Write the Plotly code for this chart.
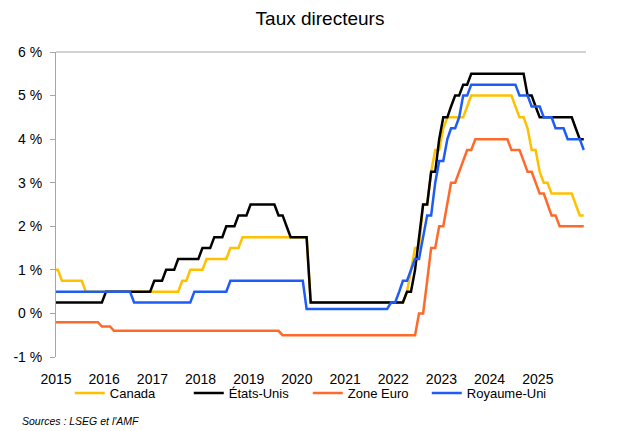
import pandas as pd
import plotly.graph_objects as go

# ---------------- DATA ----------------
# Monthly policy rates (%), from Dec 2014 to Dec 2025 (first value = Dec 2014)
months = pd.date_range("2014-12-01", "2025-12-01", freq="MS") + pd.Timedelta(days=14)

canada = [
    1.00,
    1.00, 0.75, 0.75, 0.75, 0.75, 0.75, 0.75, 0.50, 0.50, 0.50, 0.50, 0.50,  # 2015
    0.50, 0.50, 0.50, 0.50, 0.50, 0.50, 0.50, 0.50, 0.50, 0.50, 0.50, 0.50,  # 2016
    0.50, 0.50, 0.50, 0.50, 0.50, 0.50, 0.50, 0.75, 0.75, 1.00, 1.00, 1.00,  # 2017
    1.00, 1.25, 1.25, 1.25, 1.25, 1.25, 1.25, 1.50, 1.50, 1.50, 1.75, 1.75,  # 2018
    1.75, 1.75, 1.75, 1.75, 1.75, 1.75, 1.75, 1.75, 1.75, 1.75, 1.75, 1.75,  # 2019
    1.75, 1.75, 1.75, 0.25, 0.25, 0.25, 0.25, 0.25, 0.25, 0.25, 0.25, 0.25,  # 2020
    0.25, 0.25, 0.25, 0.25, 0.25, 0.25, 0.25, 0.25, 0.25, 0.25, 0.25, 0.25,  # 2021
    0.25, 0.25, 0.25, 0.50, 1.00, 1.50, 1.50, 2.50, 2.50, 3.25, 3.75, 3.75,  # 2022
    4.25, 4.50, 4.50, 4.50, 4.50, 4.50, 4.75, 5.00, 5.00, 5.00, 5.00, 5.00,  # 2023
    5.00, 5.00, 5.00, 5.00, 5.00, 5.00, 4.75, 4.50, 4.50, 4.25, 3.75, 3.75,  # 2024
    3.25, 3.00, 3.00, 2.75, 2.75, 2.75, 2.75, 2.75, 2.75, 2.50, 2.25, 2.25,  # 2025
]

etats_unis = [
    0.25,
    0.25, 0.25, 0.25, 0.25, 0.25, 0.25, 0.25, 0.25, 0.25, 0.25, 0.25, 0.25,  # 2015
    0.50, 0.50, 0.50, 0.50, 0.50, 0.50, 0.50, 0.50, 0.50, 0.50, 0.50, 0.50,  # 2016
    0.75, 0.75, 0.75, 1.00, 1.00, 1.00, 1.25, 1.25, 1.25, 1.25, 1.25, 1.25,  # 2017
    1.50, 1.50, 1.50, 1.75, 1.75, 1.75, 2.00, 2.00, 2.00, 2.25, 2.25, 2.25,  # 2018
    2.50, 2.50, 2.50, 2.50, 2.50, 2.50, 2.50, 2.25, 2.25, 2.00, 1.75, 1.75,  # 2019
    1.75, 1.75, 1.75, 0.25, 0.25, 0.25, 0.25, 0.25, 0.25, 0.25, 0.25, 0.25,  # 2020
    0.25, 0.25, 0.25, 0.25, 0.25, 0.25, 0.25, 0.25, 0.25, 0.25, 0.25, 0.25,  # 2021
    0.25, 0.25, 0.25, 0.50, 0.50, 1.00, 1.75, 2.50, 2.50, 3.25, 3.25, 4.00,  # 2022
    4.50, 4.50, 4.75, 5.00, 5.00, 5.25, 5.25, 5.50, 5.50, 5.50, 5.50, 5.50,  # 2023
    5.50, 5.50, 5.50, 5.50, 5.50, 5.50, 5.50, 5.50, 5.50, 5.00, 5.00, 4.75,  # 2024
    4.50, 4.50, 4.50, 4.50, 4.50, 4.50, 4.50, 4.50, 4.50, 4.25, 4.00, 4.00,  # 2025
]

zone_euro = [
    -0.20,
    -0.20, -0.20, -0.20, -0.20, -0.20, -0.20, -0.20, -0.20, -0.20, -0.20, -0.20, -0.30,  # 2015
    -0.30, -0.30, -0.40, -0.40, -0.40, -0.40, -0.40, -0.40, -0.40, -0.40, -0.40, -0.40,  # 2016
    -0.40, -0.40, -0.40, -0.40, -0.40, -0.40, -0.40, -0.40, -0.40, -0.40, -0.40, -0.40,  # 2017
    -0.40, -0.40, -0.40, -0.40, -0.40, -0.40, -0.40, -0.40, -0.40, -0.40, -0.40, -0.40,  # 2018
    -0.40, -0.40, -0.40, -0.40, -0.40, -0.40, -0.40, -0.40, -0.50, -0.50, -0.50, -0.50,  # 2019
    -0.50, -0.50, -0.50, -0.50, -0.50, -0.50, -0.50, -0.50, -0.50, -0.50, -0.50, -0.50,  # 2020
    -0.50, -0.50, -0.50, -0.50, -0.50, -0.50, -0.50, -0.50, -0.50, -0.50, -0.50, -0.50,  # 2021
    -0.50, -0.50, -0.50, -0.50, -0.50, -0.50, 0.00, 0.00, 0.75, 1.50, 1.50, 2.00,  # 2022
    2.00, 2.50, 3.00, 3.00, 3.25, 3.50, 3.75, 3.75, 4.00, 4.00, 4.00, 4.00,  # 2023
    4.00, 4.00, 4.00, 4.00, 4.00, 3.75, 3.75, 3.75, 3.50, 3.25, 3.25, 3.00,  # 2024
    2.75, 2.75, 2.50, 2.25, 2.25, 2.00, 2.00, 2.00, 2.00, 2.00, 2.00, 2.00,  # 2025
]

royaume_uni = [
    0.50,
    0.50, 0.50, 0.50, 0.50, 0.50, 0.50, 0.50, 0.50, 0.50, 0.50, 0.50, 0.50,  # 2015
    0.50, 0.50, 0.50, 0.50, 0.50, 0.50, 0.50, 0.25, 0.25, 0.25, 0.25, 0.25,  # 2016
    0.25, 0.25, 0.25, 0.25, 0.25, 0.25, 0.25, 0.25, 0.25, 0.25, 0.50, 0.50,  # 2017
    0.50, 0.50, 0.50, 0.50, 0.50, 0.50, 0.50, 0.75, 0.75, 0.75, 0.75, 0.75,  # 2018
    0.75, 0.75, 0.75, 0.75, 0.75, 0.75, 0.75, 0.75, 0.75, 0.75, 0.75, 0.75,  # 2019
    0.75, 0.75, 0.10, 0.10, 0.10, 0.10, 0.10, 0.10, 0.10, 0.10, 0.10, 0.10,  # 2020
    0.10, 0.10, 0.10, 0.10, 0.10, 0.10, 0.10, 0.10, 0.10, 0.10, 0.10, 0.25,  # 2021
    0.25, 0.50, 0.75, 0.75, 1.00, 1.25, 1.25, 1.75, 2.25, 2.25, 3.00, 3.50,  # 2022
    3.50, 4.00, 4.25, 4.25, 4.50, 5.00, 5.00, 5.25, 5.25, 5.25, 5.25, 5.25,  # 2023
    5.25, 5.25, 5.25, 5.25, 5.25, 5.25, 5.25, 5.00, 5.00, 5.00, 4.75, 4.75,  # 2024
    4.75, 4.50, 4.50, 4.50, 4.25, 4.25, 4.25, 4.00, 4.00, 4.00, 4.00, 3.75,  # 2025
]

series_names = ["Canada", "États-Unis", "Zone Euro", "Royaume-Uni"]
series_values = [canada, etats_unis, zone_euro, royaume_uni]
series_colors = ["#FFC000", "#000000", "#FF6A2A", "#1F5CF5"]

year_labels = [str(y) for y in range(2015, 2026)]
year_ticks = [f"{y}-01-01" for y in range(2015, 2026)]
y_tick_vals = [-1, 0, 1, 2, 3, 4, 5, 6]
y_tick_text = ["-1 %", "0 %", "1 %", "2 %", "3 %", "4 %", "5 %", "6 %"]

title_text = "Taux directeurs"
source_text = "Sources : LSEG et l'AMF"

# ---------------- FIGURE ----------------
FONT = "Liberation Sans, Arial, sans-serif"
AXIS_GREY = "#A6A6A6"
ZERO_GREY = "#D9D9D9"
x_range = ["2015-01-01", "2026-01-01"]

# The page body has an 8px margin: the figure is sized to fill the rest of the window
W, H = 631, 423

fig = go.Figure()
for name, vals, col in zip(series_names, series_values, series_colors):
    fig.add_trace(go.Scatter(
        x=months, y=vals, mode="lines", name=name,
        line=dict(color=col, width=2.5),
    ))

fig.update_layout(
    width=W, height=H,
    margin=dict(l=48, r=53, t=44, b=74, autoexpand=False),
    paper_bgcolor="white", plot_bgcolor="white",
    font=dict(family=FONT, color="#000000", size=13),
    title=dict(text=title_text, x=312 / W, xref="container", xanchor="center",
               y=1 - 10 / H, yref="container", yanchor="middle",
               font=dict(size=19, family=FONT, color="#000000")),
    showlegend=True,
    legend=dict(orientation="h", x=0.026, xanchor="left", y=-0.118, yanchor="middle",
                font=dict(size=13, family=FONT), entrywidth=74, entrywidthmode="pixels",
                bgcolor="rgba(0,0,0,0)", traceorder="normal"),
    xaxis=dict(type="date", range=x_range, tickvals=year_ticks, ticktext=year_labels,
               showline=False, ticks="", showgrid=False, zeroline=False,
               tickfont=dict(size=14, family=FONT), ticklabelstandoff=12),
    xaxis2=dict(type="date", range=x_range, overlaying="x", anchor="free", position=1 / 7,
                showline=True, linecolor=ZERO_GREY, linewidth=1,
                ticks="outside", ticklen=5, tickcolor=ZERO_GREY, tickwidth=1,
                tickvals=year_ticks, showticklabels=False, showgrid=False, zeroline=False),
    yaxis=dict(range=[-1, 6], tickvals=y_tick_vals, ticktext=y_tick_text,
               showline=True, linecolor=AXIS_GREY, linewidth=1,
               ticks="outside", ticklen=5, tickcolor=AXIS_GREY,
               showgrid=False, zeroline=False, tickfont=dict(size=14, family=FONT),
               ticklabelstandoff=5),
    yaxis2=dict(range=[-1, 6], tickvals=y_tick_vals, ticktext=y_tick_text,
                overlaying="y", side="right", anchor="x",
                showline=True, linecolor=AXIS_GREY, linewidth=1,
                ticks="outside", ticklen=5, tickcolor=AXIS_GREY,
                showgrid=False, zeroline=False, tickfont=dict(size=14, family=FONT),
                ticklabelstandoff=9),
    shapes=[dict(type="line", xref="paper", yref="paper", x0=0, x1=1, y0=1, y1=1,
                 line=dict(color=AXIS_GREY, width=1), layer="below")],
    annotations=[dict(text="<i>" + source_text + "</i>", xref="paper", yref="paper",
                      x=(12 - 48) / 530, xanchor="left", y=-(413 - 349) / 305, yanchor="middle",
                      showarrow=False, font=dict(size=10.5, family=FONT, color="#000000"))],
)

fig.write_html("out.html")
